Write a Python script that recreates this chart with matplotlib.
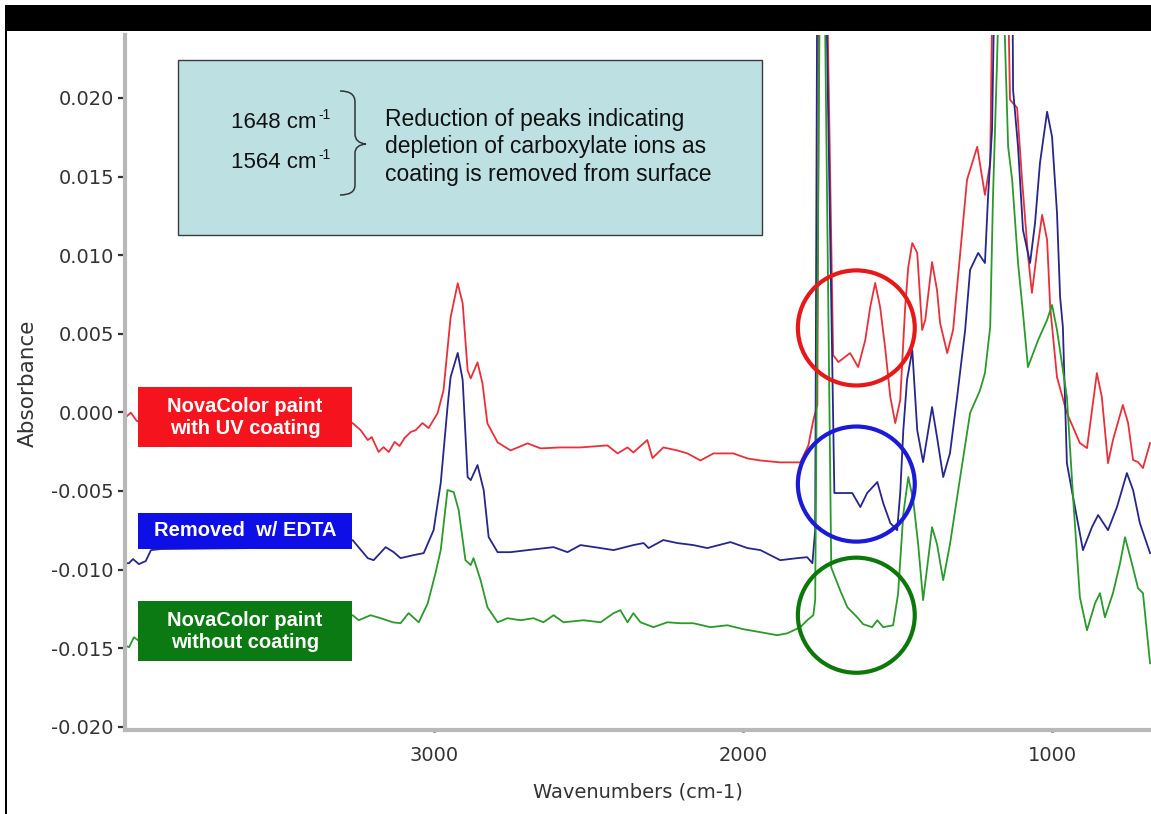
import matplotlib
matplotlib.use("Agg")
import matplotlib.pyplot as plt
from matplotlib.patches import Rectangle, Ellipse, PathPatch
from matplotlib.path import Path
from matplotlib.ticker import AutoMinorLocator, FixedLocator, FuncFormatter

# ---- spectra (wavenumber cm-1, absorbance) ----
red_wn = [3998, 3979, 3960, 3262, 3236, 3213, 3200, 3178, 3162, 3145, 3126, 3110, 3094, 3074,
          3058, 3036, 3016, 2987, 2968, 2945, 2922, 2906, 2890, 2880, 2858, 2842, 2826, 2793,
          2751, 2696, 2654, 2590, 2525, 2438, 2405, 2373, 2354, 2309, 2292, 2257, 2212, 2179,
          2137, 2095, 2031, 1985, 1943, 1879, 1814, 1788, 1772, 1759, 1753, 1730, 1708, 1691,
          1653, 1627, 1604, 1588, 1572, 1556, 1540, 1523, 1507, 1491, 1475, 1465, 1452, 1436,
          1420, 1410, 1388, 1372, 1362, 1339, 1320, 1275, 1242, 1217, 1200, 1191, 1145, 1136,
          1113, 1097, 1078, 1065, 1048, 1032, 1016, 1006, 984, 952, 910, 887, 855, 839, 819,
          803, 771, 754, 738, 722, 706, 683]
red_abs = [-0.00034, -0.00002, -0.00055, -0.00068, -0.00113, -0.00176, -0.00157, -0.00252,
           -0.00221, -0.00252, -0.00188, -0.00214, -0.00163, -0.00125, -0.00113, -0.00068,
           -0.00100, -0.00004, 0.00140, 0.00605, 0.00821, 0.00694, 0.00267, 0.00216, 0.00318,
           0.00185, -0.00070, -0.00191, -0.00242, -0.00197, -0.00229, -0.00223, -0.00223,
           -0.00210, -0.00261, -0.00223, -0.00255, -0.00176, -0.00291, -0.00223, -0.00242,
           -0.00261, -0.00306, -0.00261, -0.00261, -0.00293, -0.00306, -0.00318, -0.00318,
           -0.00210, -0.00049, 0.00047, 0.03000, 0.03000, 0.00365, 0.00320, 0.00377, 0.00288,
           0.00460, 0.00670, 0.00823, 0.00670, 0.00415, 0.00097, -0.00068, 0.00078, 0.00670,
           0.00924, 0.01077, 0.01014, 0.00524, 0.00588, 0.00956, 0.00778, 0.00568, 0.00377,
           0.00524, 0.01479, 0.01689, 0.01383, 0.01587, 0.03000, 0.03000, 0.01988, 0.01937,
           0.01479, 0.01002, 0.00760, 0.01033, 0.01256, 0.01097, 0.00670, 0.00224, -0.00004,
           -0.00195, -0.00227, 0.00250, 0.00097, -0.00323, -0.00176, 0.00047, -0.00068,
           -0.00303, -0.00316, -0.00354, -0.00195]

blue_wn = [3998, 3985, 3972, 3953, 3931, 3914, 3882, 3591, 3333, 3262, 3213, 3194, 3155, 3129,
           3107, 3065, 3032, 3000, 2977, 2955, 2945, 2922, 2906, 2890, 2880, 2858, 2838, 2822,
           2793, 2751, 2696, 2612, 2567, 2525, 2460, 2418, 2354, 2321, 2305, 2257, 2212, 2160,
           2115, 2040, 1985, 1943, 1879, 1824, 1792, 1775, 1766, 1759, 1733, 1704, 1675, 1646,
           1620, 1598, 1565, 1546, 1523, 1501, 1491, 1481, 1469, 1452, 1436, 1417, 1388, 1372,
           1352, 1330, 1307, 1281, 1265, 1239, 1217, 1207, 1194, 1184, 1129, 1126, 1110, 1094,
           1071, 1055, 1039, 1016, 1000, 984, 974, 965, 952, 932, 900, 871, 851, 819, 790, 758,
           738, 716, 683]
blue_abs = [-0.00959, -0.00959, -0.00933, -0.00965, -0.00946, -0.00876, -0.00869, -0.00863,
            -0.00863, -0.00812, -0.00927, -0.00940, -0.00857, -0.00889, -0.00927, -0.00908,
            -0.00895, -0.00749, -0.00450, 0.00034, 0.00225, 0.00378, 0.00206, -0.00411,
            -0.00431, -0.00335, -0.00494, -0.00793, -0.00889, -0.00889, -0.00876, -0.00857,
            -0.00889, -0.00844, -0.00863, -0.00876, -0.00844, -0.00831, -0.00863, -0.00812,
            -0.00831, -0.00844, -0.00863, -0.00825, -0.00863, -0.00876, -0.00940, -0.00927,
            -0.00921, -0.00959, -0.00749, 0.03000, 0.03000, -0.00513, -0.00513, -0.00513,
            -0.00602, -0.00513, -0.00443, -0.00577, -0.00704, -0.00749, -0.00513, -0.00113,
            0.00206, 0.00397, -0.00113, -0.00316, 0.00034, -0.00157, -0.00411, -0.00259,
            0.00097, 0.00524, 0.00906, 0.01014, 0.00950, 0.01370, 0.01797, 0.03000, 0.03000,
            0.02051, 0.01689, 0.01160, 0.00950, 0.01205, 0.01587, 0.01912, 0.01753, 0.01269,
            0.00735, 0.00543, -0.00323, -0.00539, -0.00876, -0.00730, -0.00653, -0.00749,
            -0.00602, -0.00386, -0.00494, -0.00704, -0.00895]

green_wn = [3998, 3985, 3969, 3956, 3262, 3242, 3204, 3171, 3132, 3107, 3081, 3048, 3019, 2994,
            2977, 2955, 2935, 2919, 2897, 2880, 2871, 2848, 2826, 2793, 2761, 2719, 2677, 2645,
            2612, 2580, 2515, 2460, 2418, 2396, 2373, 2354, 2331, 2289, 2244, 2202, 2160, 2105,
            2050, 1998, 1943, 1889, 1856, 1814, 1792, 1772, 1766, 1750, 1737, 1714, 1685, 1662,
            1630, 1611, 1582, 1565, 1546, 1514, 1498, 1481, 1465, 1449, 1433, 1417, 1401, 1388,
            1372, 1352, 1330, 1297, 1265, 1233, 1217, 1200, 1191, 1178, 1168, 1162, 1142, 1129,
            1110, 1094, 1078, 1045, 1016, 1000, 984, 952, 932, 910, 887, 861, 845, 829, 803, 780,
            764, 742, 722, 706, 683]
green_abs = [-0.01481, -0.01494, -0.01430, -0.01449, -0.01290, -0.01322, -0.01290, -0.01309,
             -0.01335, -0.01341, -0.01277, -0.01335, -0.01214, -0.01023, -0.00876, -0.00494,
             -0.00507, -0.00621, -0.00940, -0.00971, -0.00927, -0.01067, -0.01239, -0.01335,
             -0.01309, -0.01322, -0.01309, -0.01335, -0.01290, -0.01335, -0.01322, -0.01335,
             -0.01277, -0.01258, -0.01335, -0.01277, -0.01335, -0.01366, -0.01335, -0.01341,
             -0.01341, -0.01366, -0.01354, -0.01379, -0.01398, -0.01417, -0.01405, -0.01366,
             -0.01322, -0.01290, -0.01194, 0.03000, 0.03000, -0.00987, -0.01133, -0.01239,
             -0.01303, -0.01347, -0.01366, -0.01322, -0.01366, -0.01354, -0.01156, -0.00647,
             -0.00411, -0.00558, -0.00838, -0.01194, -0.00940, -0.00730, -0.00838, -0.01067,
             -0.00838, -0.00411, -0.00004, 0.00140, 0.00250, 0.00543, 0.01370, 0.02223, 0.03000,
             0.03000, 0.01689, 0.01479, 0.00950, 0.00632, 0.00288, 0.00460, 0.00588, 0.00683,
             0.00524, 0.00097, -0.00539, -0.01175, -0.01386, -0.01214, -0.01150, -0.01303,
             -0.01150, -0.00959, -0.00794, -0.00959, -0.01118, -0.01150, -0.01596]

series_names = ["NovaColor paint\nwith UV coating", "Removed  w/ EDTA", "NovaColor paint\nwithout coating"]
x_ticks = [3000, 2000, 1000]
y_ticks = [-0.020, -0.015, -0.010, -0.005, 0.000, 0.005, 0.010, 0.015, 0.020]
# circled carboxylate region: centre wavenumber, centre absorbance per spectrum
circle_wn = 1633
circle_abs = [0.00537, -0.00456, -0.01290]
peak_labels = ["1648 cm", "1564 cm"]

W, H = 1151, 814


def fx(x):
    return x / W


def fy(y):
    return 1 - y / H


fig = plt.figure(figsize=(W / 100, H / 100), dpi=100)
fig.patch.set_facecolor("white")

ax = fig.add_axes([fx(125), fy(730), fx(1151) - fx(125), fy(35) - fy(730)])
ax.plot(red_wn, red_abs, color="#e8303a", lw=1.3)
ax.plot(blue_wn, blue_abs, color="#26268c", lw=1.3)
ax.plot(green_wn, green_abs, color="#2a9a2a", lw=1.3)
ax.set_xlim(3998, 680)
ax.set_ylim(-0.0202, 0.0240)

for sp in ["top", "right"]:
    ax.spines[sp].set_visible(False)
for sp in ["left", "bottom"]:
    ax.spines[sp].set_color("#b8b8b8")
    ax.spines[sp].set_linewidth(3)

ax.xaxis.set_major_locator(FixedLocator(x_ticks))
ax.yaxis.set_major_locator(FixedLocator(y_ticks))
ax.xaxis.set_minor_locator(AutoMinorLocator(5))
ax.yaxis.set_minor_locator(AutoMinorLocator(4))
ax.yaxis.set_major_formatter(FuncFormatter(lambda v, p: "%.3f" % v if abs(v) > 1e-9 else "0.000"))
ax.xaxis.set_major_formatter(FuncFormatter(lambda v, p: "%d" % v))
ax.tick_params(axis="y", which="major", length=5, width=1.6, direction="out",
               colors="#333333", labelsize=14, pad=3)
ax.tick_params(axis="x", which="major", length=3, width=2, direction="inout",
               colors="#333333", labelsize=14, pad=10)
ax.tick_params(which="minor", length=2, width=1.6, direction="inout", colors="#555555")

fig.text(fx(28), fy(383), "Absorbance", rotation=90, ha="center", va="center",
         fontsize=15.5, color="#333333")
fig.text(fx(638), fy(792), "Wavenumbers (cm-1)", ha="center", va="center",
         fontsize=14, color="#333333")

# circles around the carboxylate peaks
for ca, col in zip(circle_abs, ["#e81818", "#1a1ad8", "#0c780c"]):
    ax.add_patch(Ellipse((circle_wn, ca), 378, 0.00732, fill=False, edgecolor=col,
                         lw=3, zorder=5))

# coloured labels
label_cols = ["#f5141e", "#0e0ee6", "#0b7a12"]
label_rows = [(387, 447), (513, 549), (601, 661)]
for name, col, (y0, y1) in zip(series_names, label_cols, label_rows):
    fig.add_artist(Rectangle((fx(138), fy(y1)), fx(352) - fx(138), fy(y0) - fy(y1),
                             transform=fig.transFigure, facecolor=col, edgecolor="none"))
    fig.text(fx(245), fy((y0 + y1) / 2), name, ha="center", va="center", color="white",
             fontsize=14.5, fontweight="bold", family="Liberation Sans", linespacing=1.2)

# note box
fig.add_artist(Rectangle((fx(178), fy(235)), fx(762) - fx(178), fy(60) - fy(235),
                         transform=fig.transFigure, facecolor="#bde0e3",
                         edgecolor="#3a3a3a", lw=1))
for lab, yc in zip(peak_labels, [122, 162]):
    fig.text(fx(231), fy(yc), lab, ha="left", va="center", fontsize=16,
             family="Liberation Sans", color="#111111")
    fig.text(fx(318.5), fy(yc - 7), "-1", ha="left", va="center", fontsize=10,
             family="Liberation Sans", color="#111111")
fig.text(fx(385), fy(147), "Reduction of peaks indicating\ndepletion of carboxylate ions as\n"
         "coating is removed from surface", ha="left", va="center", fontsize=16.5,
         family="Liberation Sans", color="#111111", linespacing=1.25)

brace_pts = [(340, 91), (355, 91), (355, 102), (355, 134), (355, 143), (366, 144),
             (355, 145), (355, 153), (355, 185), (355, 195), (340, 195)]
brace_codes = [Path.MOVETO, Path.CURVE3, Path.CURVE3, Path.LINETO, Path.CURVE3, Path.CURVE3,
               Path.CURVE3, Path.CURVE3, Path.LINETO, Path.CURVE3, Path.CURVE3]
brace = Path([(fx(a), fy(b)) for a, b in brace_pts], brace_codes)
fig.add_artist(PathPatch(brace, transform=fig.transFigure, fill=False,
                         edgecolor="#333333", lw=1.1))

# black frame pieces
fig.add_artist(Rectangle((fx(5), fy(31)), fx(1151) - fx(5), fy(5) - fy(31),
                         transform=fig.transFigure, facecolor="black", edgecolor="none"))
fig.add_artist(Rectangle((fx(5), fy(814)), fx(7) - fx(5), fy(31) - fy(814),
                         transform=fig.transFigure, facecolor="black", edgecolor="none"))

fig.savefig("out.png", dpi=100)
